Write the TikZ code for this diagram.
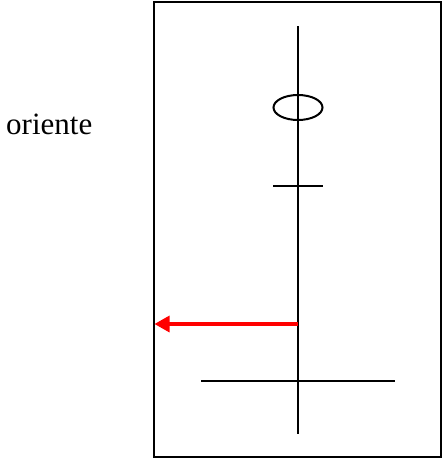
\documentclass[tikz,border=0pt]{standalone}
\usepackage{fontspec}
\setmainfont{Liberation Serif}
\usetikzlibrary{arrows.meta,shapes.geometric}
\begin{document}
\begin{tikzpicture}[x=1pt,y=-1pt,
    tratto/.style={line width=2pt, black},
    freccia/.style={line width=3.2pt, red, -{Triangle[length=15pt,width=16pt]}}]
    \useasboundingbox (0,0) rectangle (443,459);
    % Cornice
    \draw [tratto] (154,2) rectangle (441,457);
    % Coordinate
    \coordinate (A) at (298,26);  % alto
    \coordinate (B) at (298,434); % basso
    \coordinate (C1) at (273,186);
    \coordinate (C2) at (323,186);
    \coordinate (D1) at (201,381);
    \coordinate (D2) at (395,381);
    \coordinate (E) at (298,324);
    \coordinate (F) at (154.5,324);
    % Linee
    \draw [tratto] (A) -- (B); % asse verticale
    \node (anello) [draw, tratto, ellipse, inner sep=0pt, minimum width=49pt, minimum height=25pt] at (298,107.5) {};
    \draw [tratto] (C1) -- (C2); % trattino corto
    \draw [tratto] (D1) -- (D2); % linea lunga
    \draw [freccia] (E) -- (F);
    % Scritte
    \node (oriente) [anchor=base west, inner sep=0pt] at (6,134) {\fontsize{31}{37}\selectfont oriente};
\end{tikzpicture}
\end{document}
